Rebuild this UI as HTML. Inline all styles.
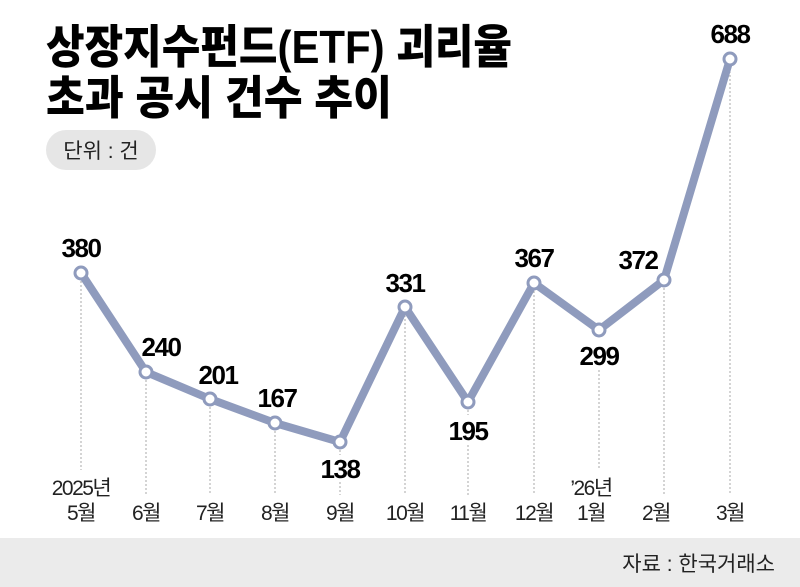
<!DOCTYPE html>
<html><head><meta charset="utf-8"><style>
html,body{margin:0;padding:0;background:#fff}
svg{display:block}
text{font-family:"Liberation Sans","Noto Sans CJK KR",sans-serif}
</style></head><body>
<svg width="800" height="587" viewBox="0 0 800 587">
<rect width="800" height="587" fill="#fff"/>
<text x="46" y="63" font-size="46" font-weight="900" fill="#000" textLength="466" lengthAdjust="spacingAndGlyphs">상장지수펀드(ETF) 괴리율</text>
<text x="46" y="114" font-size="46" font-weight="900" fill="#000" textLength="346" lengthAdjust="spacingAndGlyphs">초과 공시 건수 추이</text>
<rect x="46" y="130" width="110" height="40" rx="20" fill="#e6e6e6"/>
<text x="101" y="158" font-size="21" text-anchor="middle" fill="#222">단위 : 건</text>
<g stroke="#aaa" stroke-width="1" stroke-dasharray="2,2">
<line x1="81" y1="273" x2="81" y2="470"/>
<line x1="146" y1="372" x2="146" y2="495"/>
<line x1="210" y1="399" x2="210" y2="495"/>
<line x1="275" y1="423" x2="275" y2="495"/>
<line x1="340" y1="442" x2="340" y2="455"/>
<line x1="340" y1="482" x2="340" y2="495"/>
<line x1="405" y1="307" x2="405" y2="495"/>
<line x1="468" y1="402" x2="468" y2="415"/>
<line x1="468" y1="445" x2="468" y2="495"/>
<line x1="534" y1="283" x2="534" y2="495"/>
<line x1="599" y1="370" x2="599" y2="470"/>
<line x1="664" y1="280" x2="664" y2="495"/>
<line x1="730" y1="59" x2="730" y2="495"/>
</g>
<polyline points="81,273 146,372 210,399 275,423 340,442 405,307 468,402 534,283 599,330 664,280 730,59" fill="none" stroke="#8f9bbd" stroke-width="8" stroke-linejoin="round"/>
<g fill="#fff" stroke="#8f9bbd" stroke-width="3">
<circle cx="81" cy="273" r="6"/><circle cx="146" cy="372" r="6"/><circle cx="210" cy="399" r="6"/><circle cx="275" cy="423" r="6"/><circle cx="340" cy="442" r="6"/><circle cx="405" cy="307" r="6"/><circle cx="468" cy="402" r="6"/><circle cx="534" cy="283" r="6"/><circle cx="599" cy="330" r="6"/><circle cx="664" cy="280" r="6"/><circle cx="730" cy="59" r="6"/>
</g>
<g font-size="26" font-weight="bold" fill="#000" text-anchor="middle" letter-spacing="-1.5">
<text x="81" y="257">380</text>
<text x="161" y="356">240</text>
<text x="218" y="384">201</text>
<text x="277" y="407">167</text>
<text x="340" y="478">138</text>
<text x="405" y="292">331</text>
<text x="468" y="440">195</text>
<text x="534" y="267">367</text>
<text x="599" y="365">299</text>
<text x="638" y="269">372</text>
<text x="730" y="43">688</text>
</g>
<g font-size="21" fill="#222" text-anchor="middle" letter-spacing="-1.5">
<text x="81" y="495">2025년</text><text x="81" y="520">5월</text>
<text x="146" y="520">6월</text>
<text x="210" y="520">7월</text>
<text x="275" y="520">8월</text>
<text x="340" y="520">9월</text>
<text x="405" y="520">10월</text>
<text x="468" y="520">11월</text>
<text x="534" y="520">12월</text>
<text x="591" y="495">’26년</text><text x="591" y="520">1월</text>
<text x="656" y="520">2월</text>
<text x="730" y="520">3월</text>
</g>
<rect x="0" y="538" width="800" height="49" fill="#ebebeb"/>
<text x="775" y="571" font-size="21" text-anchor="end" fill="#222">자료 : 한국거래소</text>
</svg>
</body></html>
